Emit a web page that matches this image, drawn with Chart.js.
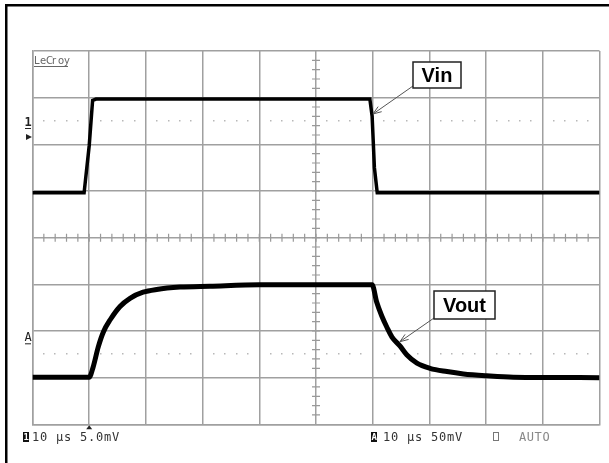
<!DOCTYPE html>
<html>
<head>
<meta charset="utf-8">
<script src="https://cdn.jsdelivr.net/npm/chart.js@4.4.0/dist/chart.umd.min.js"></script>
<style>
  html, body { margin: 0; padding: 0; background: #fff; }
  canvas { display: block; }
</style>
</head>
<body>
<canvas id="scope" width="609" height="463"></canvas>
<script>
// time in µs (trigger = 0, 10 µs/div), level in screen divisions (0 = bottom grid line)
const vinTime  = [-10, -0.9, 0, 0.6, 1.2, 49.5, 49.9, 50.3, 50.8, 90];
const vinLevel = [4.96, 4.96, 5.97, 6.94, 6.97, 6.97, 6.6, 5.5, 4.96, 4.96];

const voutTime  = [-10, 0, 0.7, 1.6, 2.5, 3.7, 5.4, 7.2, 9.5, 11.9, 16, 21.3, 30, 49.9,
                   50.7, 51.6, 52.5, 53.4, 54.8, 56.0, 57.8, 60.1, 63.1, 66.0, 70.1, 74.8, 90];
const voutLevel = [1.01, 1.01, 1.23, 1.66, 1.98, 2.24, 2.52, 2.70, 2.83, 2.89, 2.94, 2.96, 2.99, 2.99,
                   2.62, 2.32, 2.08, 1.87, 1.68, 1.49, 1.31, 1.20, 1.13, 1.08, 1.04, 1.01, 1.00];

const ch1Ground = 6.5;   // dotted reference line for channel 1
const chAGround = 1.5;   // dotted reference line for trace A
const bottomLeft  = '10 µs 5.0mV';
const bottomRight = '10 µs 50mV';

const toPoints = (xs, ys) => xs.map((x, i) => ({ x: x, y: ys[i] }));

// monospaced pixel-ish text at fixed pitch
function monoText(ctx, str, x, y, pitch) {
    for (let i = 0; i < str.length; i++) ctx.fillText(str[i], x + i * pitch, y);
}

function arrow(ctx, x1, y1, x2, y2) {
    ctx.beginPath();
    ctx.moveTo(x1, y1);
    ctx.lineTo(x2, y2);
    const a = Math.atan2(y2 - y1, x2 - x1);
    ctx.moveTo(x2 - 9 * Math.cos(a - 0.35), y2 - 9 * Math.sin(a - 0.35));
    ctx.lineTo(x2, y2);
    ctx.lineTo(x2 - 9 * Math.cos(a + 0.35), y2 - 9 * Math.sin(a + 0.35));
    ctx.stroke();
}

const scopeDecor = {
    id: 'scopeDecor',
    beforeDatasetsDraw(chart) {
        const { ctx, scales: { x, y } } = chart;
        ctx.save();
        // dotted reference lines
        ctx.fillStyle = '#b8b8b8';
        [ch1Ground, chAGround].forEach(lv => {
            const py = Math.round(y.getPixelForValue(lv));
            for (let t = -10; t < 90; t += 2) {
                if (t % 10 === 0) continue;
                ctx.fillRect(Math.round(x.getPixelForValue(t)) - 1, py - 1, 1.5, 1.5);
            }
        });
        // minor ticks on the centre axes
        ctx.strokeStyle = '#999999';
        ctx.lineWidth = 1.2;
        const cx = x.getPixelForValue(40), cy = y.getPixelForValue(4);
        ctx.beginPath();
        for (let v = 0.2; v < 8; v += 0.2) {
            const py = y.getPixelForValue(v);
            ctx.moveTo(cx - 4, py); ctx.lineTo(cx + 4, py);
        }
        for (let t = -8; t < 90; t += 2) {
            const px = x.getPixelForValue(t);
            ctx.moveTo(px, cy - 4); ctx.lineTo(px, cy + 4);
        }
        ctx.stroke();
        ctx.restore();
    },
    afterDraw(chart) {
        const { ctx, scales: { x, y } } = chart;
        ctx.save();
        // outer frame (top + left only)
        ctx.fillStyle = '#000';
        ctx.fillRect(5, 4, 604, 2.5);
        ctx.fillRect(5, 4, 2.5, 459);

        // LeCroy logo
        ctx.fillStyle = '#666';
        ctx.font = '10px "DejaVu Sans"';
        ctx.textBaseline = 'alphabetic';
        monoText(ctx, 'LeCroy', 34, 64, 6);
        ctx.fillRect(34, 66, 34, 1);

        // channel markers on the left
        ctx.fillStyle = '#222';
        ctx.font = 'bold 12px "DejaVu Sans Mono"';
        ctx.fillText('1', 24.5, y.getPixelForValue(ch1Ground) + 5);
        ctx.fillRect(25, y.getPixelForValue(ch1Ground) + 7, 6, 1);
        const ay = y.getPixelForValue(ch1Ground) + 16;
        ctx.beginPath();
        ctx.moveTo(26, ay - 3); ctx.lineTo(32, ay); ctx.lineTo(26, ay + 3); ctx.closePath();
        ctx.fill();
        ctx.font = '12px "DejaVu Sans Mono"';
        ctx.fillText('A', 24.5, y.getPixelForValue(chAGround) - 13);
        ctx.fillRect(25, y.getPixelForValue(chAGround) - 11, 6, 1);

        // trigger marker under the grid
        const tx = x.getPixelForValue(0), by = y.getPixelForValue(0);
        ctx.beginPath();
        ctx.moveTo(tx - 3, by + 5); ctx.lineTo(tx, by + 1); ctx.lineTo(tx + 3, by + 5); ctx.closePath();
        ctx.fill();

        // bottom status line
        ctx.fillStyle = '#111';
        ctx.fillRect(23, 432, 6, 10);
        ctx.fillRect(371, 432, 6, 10);
        ctx.fillStyle = '#fff';
        ctx.font = 'bold 9px "DejaVu Sans Mono"';
        ctx.fillText('1', 23.5, 440);
        ctx.fillText('A', 371.5, 440);
        ctx.font = '12px "DejaVu Sans Mono"';
        ctx.fillStyle = '#333';
        monoText(ctx, bottomLeft, 32, 441, 8);
        monoText(ctx, bottomRight, 383, 441, 8);
        ctx.strokeStyle = '#777';
        ctx.lineWidth = 1;
        ctx.strokeRect(493.5, 432.5, 5, 8);
        ctx.fillStyle = '#888';
        monoText(ctx, 'AUTO', 519, 441, 7.8);

        // trace labels with arrows
        ctx.strokeStyle = '#555';
        ctx.lineWidth = 1;
        arrow(ctx, 413, 86, x.getPixelForValue(50.05), y.getPixelForValue(6.65));
        arrow(ctx, 434, 318, x.getPixelForValue(54.8), y.getPixelForValue(1.77));
        ctx.fillStyle = '#fff';
        ctx.fillRect(413, 62, 48, 26);
        ctx.fillRect(434, 291, 61, 28);
        ctx.strokeStyle = '#222';
        ctx.lineWidth = 1.5;
        ctx.strokeRect(413, 62, 48, 26);
        ctx.strokeRect(434, 291, 61, 28);
        ctx.fillStyle = '#000';
        ctx.font = 'bold 20px "Liberation Sans"';
        ctx.textAlign = 'center';
        ctx.textBaseline = 'middle';
        ctx.fillText('Vin', 437, 76);
        ctx.fillText('Vout', 464.5, 306);
        ctx.restore();
    }
};

new Chart(document.getElementById('scope'), {
    type: 'line',
    data: {
        datasets: [
            {
                label: 'Vin',
                data: toPoints(vinTime, vinLevel),
                borderColor: '#000',
                borderWidth: 3.5,
                pointRadius: 0,
                tension: 0
            },
            {
                label: 'Vout',
                data: toPoints(voutTime, voutLevel),
                borderColor: '#000',
                borderWidth: 5,
                pointRadius: 0,
                cubicInterpolationMode: 'monotone'
            }
        ]
    },
    options: {
        responsive: false,
        animation: false,
        devicePixelRatio: 1,
        layout: { padding: { left: 32.5, top: 51, right: 9.5, bottom: 38.7 } },
        plugins: {
            legend: { display: false },
            tooltip: { enabled: false }
        },
        scales: {
            x: {
                type: 'linear',
                min: -10,
                max: 90,
                ticks: { display: false, stepSize: 10 },
                grid: { color: '#a0a0a0', lineWidth: 1.5, drawTicks: false },
                border: { color: '#a0a0a0', width: 1.5 },
                afterFit: s => { s.height = 0; }
            },
            y: {
                min: 0,
                max: 8,
                ticks: { display: false, stepSize: 1 },
                grid: { color: '#a0a0a0', lineWidth: 1.5, drawTicks: false },
                border: { color: '#a0a0a0', width: 1.5 },
                afterFit: s => { s.width = 0; }
            }
        }
    },
    plugins: [scopeDecor]
});
</script>
</body>
</html>
